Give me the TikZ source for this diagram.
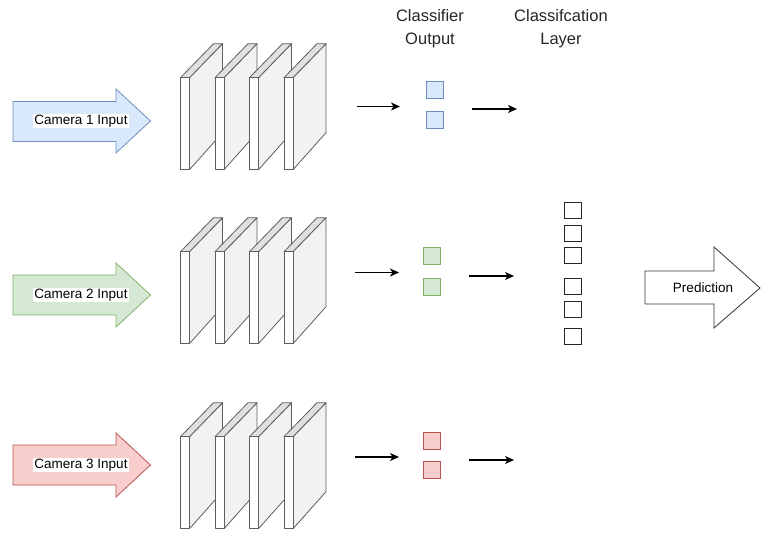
\documentclass[tikz,border=0pt]{standalone}
\usepackage{fontspec}
\setmainfont{Liberation Sans}
\usetikzlibrary{arrows.meta}

\definecolor{bluefill}{HTML}{DAE8FC}
\definecolor{bluedraw}{HTML}{6C8EBF}
\definecolor{greenfill}{HTML}{D5E8D4}
\definecolor{greendraw}{HTML}{82B366}
\definecolor{redfill}{HTML}{F8CECC}
\definecolor{reddraw}{HTML}{B85450}
\definecolor{slabside}{HTML}{F2F2F2}
\definecolor{slabtop}{HTML}{E0E0E0}
\definecolor{slabline}{HTML}{5E5E5E}

\tikzset{
  conn/.style={line width=1.2pt, -{Stealth[length=9pt,width=8pt,inset=2.5pt]}},
  bigarrow/.style={line width=0.8pt},
  camlabel/.style={fill=white, inner sep=1pt, font=\fontsize{13.5}{16}\selectfont},
  header/.style={align=center, font=\fontsize{16.5}{23}\selectfont, text=black!85},
  unit/.style={draw, line width=0.8pt, minimum size=17pt, inner sep=0pt},
  layerunit/.style={unit, draw=black!85, fill=white, minimum size=16.5pt},
  pics/slab/.style={code={
    % side face
    \filldraw[fill=slabside, draw=slabline, line width=0.8pt, line join=round]
      (9,0) -- (42,-34) -- (42,55) -- (9,92) -- cycle;
    % top face
    \filldraw[fill=slabtop, draw=slabline, line width=0.8pt, line join=round]
      (0,0) -- (9,0) -- (42,-34) -- (33,-34) -- cycle;
    % front face
    \filldraw[fill=white, draw=slabline, line width=0.8pt, line join=round]
      (0,0) rectangle (9,92);
  }},
}

\begin{document}
\begin{tikzpicture}[x=1pt, y=-1pt]
\useasboundingbox (0,0) rectangle (768,537);

% column headings
\node[header] (hout) at (430,29) {Classifier\\Output};
\node[header] (hlay) at (561,29) {Classifcation\\Layer};

% camera input arrows
\filldraw[bigarrow, fill=bluefill, draw=bluedraw]
  (13,101.5) -- (116,101.5) -- (116,89) -- (150.5,121) -- (116,153) -- (116,141.5) -- (13,141.5) -- cycle;
\node[camlabel] (cam1) at (81,121) {Camera 1 Input};

\filldraw[bigarrow, fill=greenfill, draw=greendraw]
  (13,275) -- (116,275) -- (116,263) -- (150.5,295) -- (116,327) -- (116,315) -- (13,315) -- cycle;
\node[camlabel] (cam2) at (81,295) {Camera 2 Input};

\filldraw[bigarrow, fill=redfill, draw=reddraw]
  (13,445) -- (116,445) -- (116,433) -- (150.5,465) -- (116,497) -- (116,485) -- (13,485) -- cycle;
\node[camlabel] (cam3) at (81,465) {Camera 3 Input};

% convolution layer stacks
\foreach \y in {77.7, 251.7, 436.7} {
  \foreach \x in {180.5, 215, 249.5, 284} {
    \pic at (\x,\y) {slab};
  }
}

% classifier outputs
\node[unit, fill=bluefill, draw=bluedraw] (b1) at (435,90) {};
\node[unit, fill=bluefill, draw=bluedraw] (b2) at (435,120) {};
\node[unit, fill=greenfill, draw=greendraw] (g1) at (432,256) {};
\node[unit, fill=greenfill, draw=greendraw] (g2) at (432,286.5) {};
\node[unit, fill=redfill, draw=reddraw] (r1) at (432,440.5) {};
\node[unit, fill=redfill, draw=reddraw] (r2) at (432,470) {};

% classification layer
\node[layerunit] (l1) at (573,210.5) {};
\node[layerunit] (l2) at (573,233.5) {};
\node[layerunit] (l3) at (573,255.5) {};
\node[layerunit] (l4) at (573,286.5) {};
\node[layerunit] (l5) at (573,309.5) {};
\node[layerunit] (l6) at (573,336.5) {};

% prediction arrow
\filldraw[bigarrow, fill=white, draw=black!80]
  (645,271) -- (714,271) -- (714,247) -- (760,288) -- (714,328) -- (714,304) -- (645,304) -- cycle;
\node[font=\fontsize{13.5}{16}\selectfont] (pred) at (703,287.5) {Prediction};

% connectors
\coordinate (s1a) at (357,106.5);
\coordinate (e1a) at (400,106.5);
\coordinate (s1b) at (472,109);
\coordinate (e1b) at (517,109);
\coordinate (s2a) at (355,272.5);
\coordinate (e2a) at (399,272.5);
\coordinate (s2b) at (469,276);
\coordinate (e2b) at (514,276);
\coordinate (s3a) at (355,457);
\coordinate (e3a) at (399,457);
\coordinate (s3b) at (469,460);
\coordinate (e3b) at (514,460);

\draw[conn] (s1a) -- (e1a);
\draw[conn] (s1b) -- (e1b);
\draw[conn] (s2a) -- (e2a);
\draw[conn] (s2b) -- (e2b);
\draw[conn] (s3a) -- (e3a);
\draw[conn] (s3b) -- (e3b);
\end{tikzpicture}
\end{document}
